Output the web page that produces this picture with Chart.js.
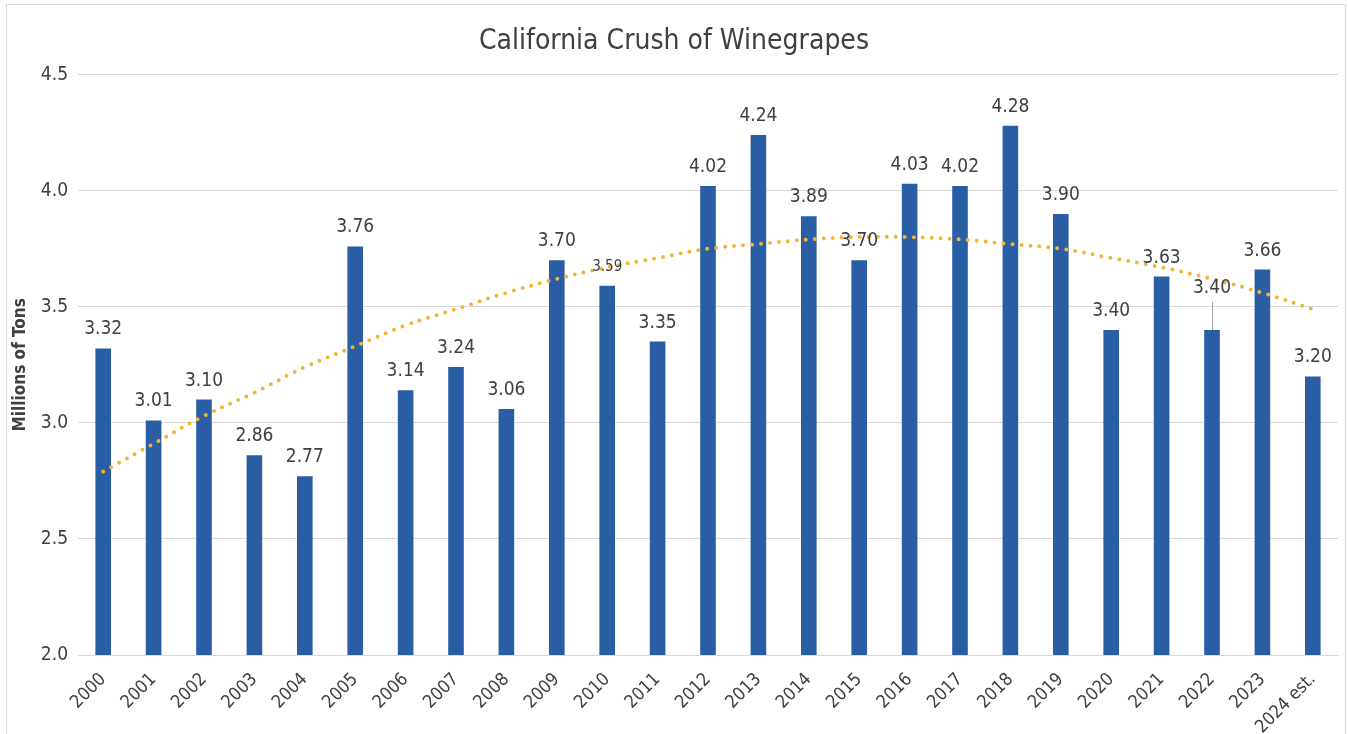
<!DOCTYPE html>
<html>
<head>
<meta charset="utf-8">
<script src="https://cdn.jsdelivr.net/npm/chart.js@4"></script>
<style>
  html, body { margin: 0; padding: 0; background: #fff; }
  #wrap { width: 1348px; height: 734px; position: relative; }
</style>
</head>
<body>
<div id="wrap"><canvas id="myChart" width="1348" height="734"></canvas></div>
<script>
const years = ['2000', '2001', '2002', '2003', '2004', '2005', '2006', '2007', '2008', '2009', '2010', '2011',
  '2012', '2013', '2014', '2015', '2016', '2017', '2018', '2019', '2020', '2021', '2022', '2023', '2024 est.'];
const crushTons = [3.32, 3.01, 3.10, 2.86, 2.77, 3.76, 3.14, 3.24, 3.06, 3.70, 3.59, 3.35,
  4.02, 4.24, 3.89, 3.70, 4.03, 4.02, 4.28, 3.90, 3.40, 3.63, 3.40, 3.66, 3.20];
// dotted trend line
const trendTons = [2.79, 2.91, 3.03, 3.13, 3.24, 3.33, 3.42, 3.49, 3.56, 3.62, 3.67, 3.71,
  3.75, 3.77, 3.79, 3.80, 3.80, 3.79, 3.77, 3.75, 3.71, 3.67, 3.62, 3.56, 3.49];
const yTicks = [2.0, 2.5, 3.0, 3.5, 4.0, 4.5];

const FONT = "'DejaVu Sans Condensed', 'Liberation Sans Narrow', Arial, sans-serif";
const TXT = '#404040';

// labels that Excel moved away from the bar
const labelTweaks = {
  '2010': { size: 15, dy: -19, leader: false },
  '2022': { size: 19, dy: -42, leader: true }
};

const frame = {
  id: 'frame',
  beforeDraw(chart) {
    const c = chart.ctx;
    c.save();
    c.fillStyle = '#fff';
    c.fillRect(0, 0, chart.width, chart.height);
    c.strokeStyle = '#d9d9d9';
    c.lineWidth = 1;
    c.strokeRect(6.5, 4.5, 1339, 740);
    c.restore();
  }
};

const valueLabels = {
  id: 'valueLabels',
  afterDatasetsDraw(chart) {
    const c = chart.ctx;
    const meta = chart.getDatasetMeta(1);
    c.save();
    c.fillStyle = TXT;
    c.textAlign = 'center';
    c.textBaseline = 'middle';
    meta.data.forEach((bar, i) => {
      const t = labelTweaks[years[i]] || { size: 19, dy: -19, leader: false };
      const y = bar.y + t.dy;
      if (t.leader) {
        c.strokeStyle = '#a6a6a6';
        c.lineWidth = 1;
        c.beginPath();
        c.moveTo(Math.round(bar.x) + 0.5, y + 14);
        c.lineTo(Math.round(bar.x) + 0.5, bar.y);
        c.stroke();
      }
      c.font = t.size + 'px ' + FONT;
      c.fillText(crushTons[i].toFixed(2), bar.x, y);
    });
    c.restore();
  }
};

const ctx = document.querySelector('#myChart').getContext('2d');
const myChart = new Chart(ctx, {
  type: 'bar',
  data: {
    labels: years,
    datasets: [{
      type: 'line',
      label: 'Trend',
      data: trendTons,
      borderColor: '#F2B535',
      borderWidth: 4,
      borderDash: [0, 9],
      borderCapStyle: 'round',
      pointRadius: 0,
      tension: 0.4,
      fill: false,
      order: 0
    }, {
      label: 'Crush',
      data: crushTons,
      backgroundColor: '#2A5EA4',
      borderWidth: 0,
      categoryPercentage: 1,
      barPercentage: 0.31,
      order: 1
    }]
  },
  options: {
    responsive: false,
    animation: false,
    layout: { padding: { left: 10, right: 10, top: 0, bottom: 0 } },
    plugins: {
      legend: { display: false },
      tooltip: { enabled: false },
      title: {
        display: true,
        text: 'California Crush of Winegrapes',
        color: TXT,
        font: { family: FONT, size: 28, weight: 'normal' },
        padding: { top: 25, bottom: 16 }
      }
    },
    scales: {
      x: {
        grid: { display: false },
        border: { display: true, color: '#d9d9d9' },
        ticks: {
          color: TXT,
          font: { family: FONT, size: 18 },
          minRotation: 45,
          maxRotation: 45,
          padding: 6,
          autoSkip: false
        },
        afterFit(scale) { scale.height = 79; }
      },
      y: {
        min: 2.0,
        max: 4.5,
        afterBuildTicks(scale) { scale.ticks = yTicks.map(v => ({ value: v })); },
        grid: { color: '#d9d9d9', drawTicks: false },
        border: { display: false },
        ticks: {
          color: TXT,
          font: { family: FONT, size: 19 },
          padding: 10,
          callback: v => v.toFixed(1)
        },
        title: {
          display: true,
          text: 'Millions of Tons',
          color: TXT,
          font: { family: FONT, size: 17, weight: 'bold' },
          padding: 0
        },
        afterFit(scale) { scale.width = 68; }
      }
    }
  },
  plugins: [frame, valueLabels]
});
</script>
</body>
</html>
